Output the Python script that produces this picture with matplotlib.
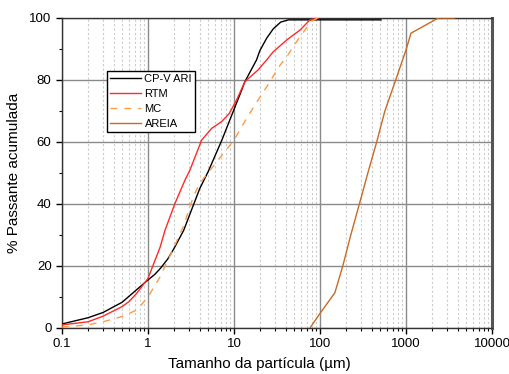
import matplotlib
matplotlib.use("Agg")
import matplotlib.pyplot as plt
from matplotlib.ticker import LogLocator, FixedLocator, NullFormatter

plt.rcParams['font.family'] = ['Liberation Sans', 'DejaVu Sans']

cpv_x = [0.1, 0.2, 0.3, 0.5, 0.8, 1.0, 1.2, 1.4, 1.7, 2.0, 2.6, 3.0, 4.0, 5.0, 7.2, 10, 12.3, 13.4, 18.3, 20, 24, 28.6, 35, 43, 512]
cpv_y = [1.3, 3.3, 5.0, 8.3, 13.2, 15.5, 17.3, 19.3, 22.3, 25.6, 31.5, 36, 45, 50.4, 60.5, 70.5, 76.8, 79.5, 86.5, 89.5, 93.5, 96.5, 98.7, 99.4, 99.4]

rtm_x = [0.1, 0.2, 0.3, 0.5, 0.6, 0.74, 1.0, 1.38, 1.58, 2.06, 2.69, 3.08, 4.2, 5.5, 7.2, 8.8, 10.7, 13.4, 19, 24, 28.6, 41, 58.5, 76.5, 95]
rtm_y = [1.0, 2.0, 3.8, 6.9, 8.5, 11.2, 16, 26, 31.6, 40.2, 47.7, 51, 60.6, 64.4, 66.6, 69.2, 73.5, 79.5, 83.2, 86.5, 89.1, 92.9, 96.1, 99.4, 100]

mc_x = [0.1, 0.2, 0.3, 0.5, 0.74, 1.0, 1.38, 2.0, 2.6, 3.37, 4.0, 6.3, 10, 11.7, 14, 17.5, 20.8, 24.8, 30, 34.4, 41, 58.5, 80, 95]
mc_y = [0.3, 1.0, 2.0, 3.7, 5.8, 10, 16.5, 26, 33, 42.4, 46.7, 53.6, 60.6, 63.9, 67.6, 71.9, 75.2, 78.4, 82.2, 84.8, 87.5, 94, 99, 100]

areia_x = [76.5, 100, 149, 184, 228, 287, 360, 456, 568, 759, 1000, 1143, 2376, 3650]
areia_y = [0, 4.7, 11.4, 20, 30, 40, 50, 60, 70, 80, 89.7, 95.1, 100, 100]

series_labels = ["CP-V ARI", "RTM", "MC", "AREIA"]
y_ticks = [0, 20, 40, 60, 80, 100]
x_ticks = [0.1, 1, 10, 100, 1000, 10000]
x_tick_labels = ["0.1", "1", "10", "100", "1000", "10000"]

fig = plt.figure(figsize=(5.09, 3.74), dpi=100)
ax = fig.add_axes([62/509, 46/374, 430/509, 310/374])

ax.plot(cpv_x, cpv_y, color='black', lw=1.0, label=series_labels[0], zorder=5)
ax.plot(rtm_x, rtm_y, color='#ff2a2a', lw=1.0, label=series_labels[1], zorder=5)
ax.plot(mc_x, mc_y, color='#ff9a45', lw=1.0, ls=(0, (5, 5)), label=series_labels[2], zorder=5)
ax.plot(areia_x, areia_y, color='#c96a25', lw=1.0, label=series_labels[3], zorder=5)

ax.set_xscale('log')
ax.set_xlim(0.1, 10000)
ax.set_ylim(0, 100)
ax.xaxis.set_major_locator(FixedLocator(x_ticks))
ax.set_xticklabels(x_tick_labels)
ax.xaxis.set_minor_locator(LogLocator(base=10, subs=range(2, 10), numticks=20))
ax.xaxis.set_minor_formatter(NullFormatter())
ax.set_yticks(y_ticks)
ax.yaxis.set_minor_locator(FixedLocator([10, 30, 50, 70, 90]))

ax.grid(True, which='major', axis='both', color='#8a8a8a', lw=1.0, zorder=1)
ax.grid(True, which='minor', axis='x', color='#cccccc', lw=0.8, ls=(0, (2, 2)), zorder=1)
ax.set_axisbelow(True)

ax.tick_params(which='major', direction='out', length=4, width=1, labelsize=9.5, colors='black')
ax.tick_params(which='minor', direction='out', length=2.5, width=0.8)
ax.tick_params(axis='x', which='both', top=False)
ax.tick_params(axis='y', which='both', right=False)

for s in ['left', 'bottom', 'top']:
    ax.spines[s].set_color('#333333')
    ax.spines[s].set_linewidth(1.0)
ax.spines['right'].set_color('#555555')
ax.spines['right'].set_linewidth(2.2)

ax.set_xlabel("Tamanho da partícula (µm)", fontsize=11)
ax.xaxis.set_label_coords(0.459, -0.093)
ax.set_ylabel("% Passante acumulada", fontsize=11, labelpad=6)

leg = ax.legend(loc='upper left', bbox_to_anchor=(0.104, 0.83), borderaxespad=0,
                fancybox=False, framealpha=1, edgecolor='black', fontsize=8,
                handlelength=2.8, handletextpad=0.3, labelspacing=0.45, borderpad=0.3)
leg.get_frame().set_linewidth(1.0)

fig.savefig("out.png", dpi=100)
